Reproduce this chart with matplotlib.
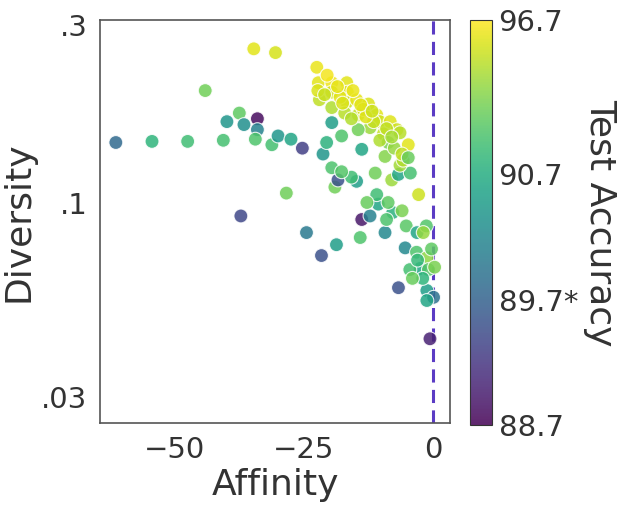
import numpy as np
import matplotlib.pyplot as plt
from matplotlib.colors import FuncNorm

# affinity, diversity, test accuracy
affinity = [-61.4, -54.4, -47.5, -40.6, -44.1, -34.7, -30.5, -37.5, -39.9, -36.6,
            -34.0, -34.0, -34.4, -31.2, -30.0, -27.5, -25.3, -28.4, -37.2,
            -24.5, -21.6, -18.7, -14.1, -13.8, -12.2, -9.3, -10.6, -10.9, -12.8,
            -19.0, -18.4, -14.8, -15.8, -19.6, -17.7, -11.2, -8.0, -6.7, -4.4,
            -2.8, -6.4, -21.3, -20.6, -17.7, -19.6, -13.8,
            -22.5, -22.2, -22.0, -22.3, -19.6, -19.6, -16.7, -16.6, -16.7, -19.6,
            -14.8, -12.5, -17.1, -14.5, -10.9, -10.3, -8.3, -12.2, -14.5, -7.0,
            -6.4, -9.6, -8.7, -4.8, -10.3, -5.8, -9.3, -11.5, -13.5, -18.0,
            -20.5, -18.5, -15.5, -13.0, -7.5, -6.0, -4.8,
            -21.0, -17.5, -14.0, -11.8, -9.0, -8.0, -15.8,
            -7.8, -9.0, -5.2, -3.1, -1.3, -1.9, -5.4, -3.2, -1.2, -2.5,
            -4.5, -0.9, -6.7, -1.2, 0.1, -1.2, -0.6, -3.0, -2.0, -4.0,
            0.3, -0.3, -6.0, -8.7]
diversity = [0.145, 0.146, 0.146, 0.147, 0.200, 0.259, 0.253, 0.174, 0.165, 0.162,
             0.168, 0.157, 0.148, 0.143, 0.151, 0.148, 0.140, 0.106, 0.092,
             0.083, 0.072, 0.077, 0.0805, 0.090, 0.092, 0.083, 0.099, 0.105, 0.100,
             0.110, 0.115, 0.114, 0.117, 0.124, 0.121, 0.120, 0.115, 0.119, 0.120,
             0.105, 0.126, 0.135, 0.145, 0.151, 0.164, 0.139,
             0.231, 0.210, 0.189, 0.200, 0.210, 0.198, 0.210, 0.198, 0.186, 0.180,
             0.189, 0.184, 0.174, 0.172, 0.172, 0.165, 0.165, 0.159, 0.157, 0.157,
             0.154, 0.153, 0.145, 0.143, 0.147, 0.130, 0.133, 0.165, 0.178, 0.192,
             0.220, 0.205, 0.200, 0.170, 0.140, 0.135, 0.132,
             0.195, 0.185, 0.183, 0.176, 0.158, 0.150, 0.168,
             0.094, 0.090, 0.0865, 0.083, 0.0865, 0.083, 0.0755, 0.0735, 0.071, 0.0665,
             0.066, 0.066, 0.059, 0.058, 0.0556, 0.0545, 0.043, 0.070, 0.0625, 0.0625,
             0.067, 0.075, 0.095, 0.100]
accuracy = [89.8, 91.2, 91.8, 92.0, 93.3, 96.0, 95.7, 92.8, 90.4, 90.3,
            88.8, 90.1, 92.3, 92.0, 90.4, 90.6, 89.3, 93.2, 89.4,
            90.0, 89.5, 90.5, 92.3, 88.9, 90.1, 90.2, 90.6, 91.8, 93.0,
            93.3, 89.5, 90.5, 91.8, 92.2, 92.5, 93.2, 94.3, 90.6, 92.0,
            95.5, 94.5, 90.4, 91.0, 92.3, 90.5, 90.6,
            96.2, 96.0, 95.2, 95.8, 96.3, 95.6, 96.0, 95.9, 95.5, 94.8,
            96.1, 95.8, 95.0, 95.3, 96.0, 95.6, 95.9, 94.4, 93.3, 95.5,
            95.0, 95.3, 93.5, 96.0, 94.8, 94.8, 93.8, 95.4, 95.7, 96.0,
            96.4, 96.1, 96.2, 95.9, 94.2, 95.2, 93.0,
            95.4, 95.8, 96.0, 95.5, 95.2, 94.6, 94.9,
            91.0, 92.2, 92.6, 90.6, 92.4, 94.2, 90.2, 92.3, 94.0, 90.6,
            92.0, 92.5, 89.5, 90.5, 89.9, 90.6, 89.0, 91.5, 91.2, 93.0,
            93.5, 92.8, 93.5, 92.8]

cbar_ticks = [88.7, 89.7, 90.7, 96.7]
cbar_labels = ['88.7', '89.7*', '90.7', '96.7']
cbar_pos = [0.0, 0.31, 0.62, 1.0]

norm = FuncNorm((lambda v: np.interp(v, cbar_ticks, cbar_pos),
                 lambda p: np.interp(p, cbar_pos, cbar_ticks)),
                vmin=88.7, vmax=96.7)

text_col = '#333333'
plt.rcParams['font.family'] = 'DejaVu Sans'
plt.rcParams['text.color'] = text_col
plt.rcParams['axes.labelcolor'] = text_col
plt.rcParams['xtick.color'] = text_col
plt.rcParams['ytick.color'] = text_col

fig = plt.figure(figsize=(6.2, 5.08), dpi=100)
ax = fig.add_axes([0.161, 0.167, 0.565, 0.794])
cax = fig.add_axes([0.758, 0.163, 0.035, 0.797])

sc = ax.scatter(affinity, diversity, c=accuracy, cmap='viridis', norm=norm,
                s=100, alpha=0.85, edgecolors='white', linewidths=0.8, zorder=3)
ax.axvline(0, color='#5b3cc4', lw=2.2, dashes=(4.3, 2.4), zorder=2)

ax.set_yscale('log')
ax.set_xlim(-64.5, 3.3)
ax.set_ylim(0.0255, 0.31)
ax.set_yticks([0.03, 0.1, 0.3])
ax.set_yticklabels(['.03', '.1', '.3'])
ax.yaxis.set_minor_locator(plt.NullLocator())
ax.set_xticks([-50, -25, 0])
ax.tick_params(length=0, labelsize=21, pad=9)
ax.set_xlabel('Affinity', fontsize=26, labelpad=3)
ax.set_ylabel('Diversity', fontsize=26, labelpad=4)
for sp in ax.spines.values():
    sp.set_color('#555555')
    sp.set_linewidth(1.2)

cb = fig.colorbar(sc, cax=cax)
cb.set_ticks(cbar_ticks)
cb.set_ticklabels(cbar_labels)
cb.ax.minorticks_off()
cb.ax.tick_params(length=0, labelsize=21, pad=5)
cb.outline.set_edgecolor('#333333')
cb.set_label('Test Accuracy', fontsize=26, rotation=270, labelpad=28)

fig.savefig('out.png', dpi=100)
